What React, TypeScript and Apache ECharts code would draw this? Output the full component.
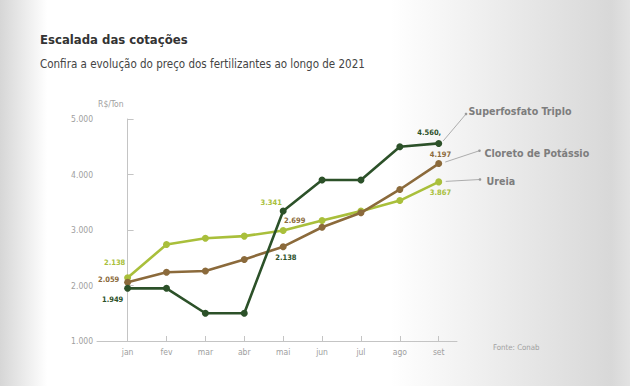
import React, { useEffect, useRef } from "react";
import * as echarts from "echarts";

const months = ["jan", "fev", "mar", "abr", "mai", "jun", "jul", "ago", "set"];
const superfosfato = [1949, 1949, 1500, 1500, 3341, 3900, 3900, 4500, 4560];
const cloreto = [2059, 2240, 2260, 2470, 2699, 3050, 3310, 3730, 4197];
const ureia = [2138, 2740, 2850, 2890, 2990, 3170, 3340, 3530, 3867];
const seriesNames = ["Superfosfato Triplo", "Cloreto de Potássio", "Ureia"];
const yMin = 1000;
const yMax = 5000;
const yStep = 1000;

const DARK = "#2c5129";
const BROWN = "#8b6a3b";
const LIGHT = "#a9bf3b";
const FONT = "'DejaVu Sans Condensed', 'Liberation Sans Narrow', sans-serif";

// value annotations: [series, point index, text, color, offset]
const valueLabels: [number, number, string, string, [number, number]][] = [
  [0, 0, "1.949", DARK, [-15, 11]],
  [1, 0, "2.059", BROWN, [-19, -3]],
  [2, 0, "2.138", LIGHT, [-13, -15]],
  [0, 4, "3.341", LIGHT, [-12, -8.5]],
  [1, 4, "2.699", BROWN, [11.5, -26.7]],
  [2, 4, "2.138", DARK, [2.7, 27]],
  [0, 8, "4.560,", DARK, [-9.5, -11.3]],
  [1, 8, "4.197", BROWN, [1.7, -9]],
  [2, 8, "3.867", LIGHT, [1.7, 11]],
];

const fmt = (v: number) => String(v).replace(/\B(?=(\d{3})+(?!\d))/g, ".");

export default function App() {
  const ref = useRef<HTMLDivElement>(null);
  useEffect(() => {
    const chart = echarts.init(ref.current!, null, { renderer: "svg" });
    const allSeries = [superfosfato, cloreto, ureia];
    const colors = [DARK, BROWN, LIGHT];
    const series = allSeries.map((vals, si) => ({
      type: "line",
      name: seriesNames[si],
      symbol: "circle",
      symbolSize: 7,
      z: 3 - si,
      lineStyle: { color: colors[si], width: 2.6 },
      itemStyle: { color: colors[si] },
      data: vals.map((v, i) => {
        const lab = valueLabels.find((l) => l[0] === si && l[1] === i);
        const item: any = { value: [i, v] };
        if (lab) {
          item.label = {
            show: true,
            position: "inside",
            formatter: lab[2],
            color: lab[3],
            offset: lab[4],
            fontSize: 7.5,
            fontWeight: "bold",
            fontFamily: FONT,
          };
        }
        return item;
      }),
      label: { show: false },
    }));
    const idx = months.map((_, i) => i);
    chart.setOption({
      animation: false,
      backgroundColor: {
        type: "linear",
        x: 0,
        y: 0,
        x2: 1,
        y2: 0,
        colorStops: [
          { offset: 0, color: "#d6d6d6" },
          { offset: 0.075, color: "#ffffff" },
          { offset: 0.62, color: "#ffffff" },
          { offset: 0.97, color: "#d8d8d8" },
          { offset: 1, color: "#e2e2e2" },
        ],
      },
      title: {
        text: "Escalada das cotações",
        subtext: "Confira a evolução do preço dos fertilizantes ao longo de 2021",
        left: 40,
        top: 33,
        padding: 0,
        itemGap: 12,
        textStyle: { fontFamily: FONT, fontSize: 13, fontWeight: "bold", color: "#333" },
        subtextStyle: { fontFamily: FONT, fontSize: 11.5, color: "#444" },
      },
      grid: { left: 97, right: 173, top: 119, bottom: 45, containLabel: false },
      xAxis: {
        type: "value",
        min: -0.787,
        max: 8.47,
        splitLine: { show: false },
        axisLine: { show: true, lineStyle: { color: "#c4c4c4", width: 1 } },
        axisTick: { show: true, inside: true, length: 5, customValues: idx, lineStyle: { color: "#c4c4c4" } },
        axisLabel: {
          customValues: idx,
          formatter: (v: number) => months[Math.round(v)],
          color: "#a0a0a0",
          fontSize: 8.5,
          fontFamily: FONT,
          margin: 6,
        },
      },
      yAxis: {
        type: "value",
        min: yMin,
        max: yMax,
        interval: yStep,
        name: "R$/Ton",
        nameLocation: "end",
        nameGap: 11,
        nameTextStyle: { align: "right", color: "#a0a0a0", fontSize: 8.5, fontFamily: FONT, padding: [0, 4, 0, 0] },
        splitLine: { show: false },
        axisLine: { show: true, lineStyle: { color: "#c4c4c4", width: 1 } },
        axisTick: { show: true, inside: true, length: 6, lineStyle: { color: "#c4c4c4" } },
        axisLabel: { formatter: (v: number) => fmt(v), color: "#a0a0a0", fontSize: 8.5, fontFamily: FONT, margin: 4 },
      },
      series,
    });

    const last = months.length - 1;
    const pts = allSeries.map((vals) => chart.convertToPixel({ gridIndex: 0 }, [last, vals[last]]) as number[]);
    const leaders: { start: [number, number]; end: [number, number]; text: [number, number] }[] = [
      { start: [4.5, -2.5], end: [466, 114], text: [468.5, 111] },
      { start: [6.5, -1.5], end: [479.5, 150.7], text: [484.5, 153] },
      { start: [7, -0.5], end: [480, 179.5], text: [486.5, 181] },
    ];
    const graphic: any[] = [];
    leaders.forEach((l, i) => {
      graphic.push({
        type: "line",
        shape: { x1: pts[i][0] + l.start[0], y1: pts[i][1] + l.start[1], x2: l.end[0], y2: l.end[1] },
        style: { stroke: "#9a9a9a", lineWidth: 0.8 },
      });
      graphic.push({ type: "circle", shape: { cx: l.end[0], cy: l.end[1], r: 1.3 }, style: { fill: "#9a9a9a" } });
      graphic.push({
        type: "text",
        x: l.text[0],
        y: l.text[1],
        style: {
          text: seriesNames[i],
          fill: "#7d7d7d",
          font: `bold 10.6px ${FONT}`,
          verticalAlign: "middle",
        },
      });
    });
    graphic.push({
      type: "text",
      x: 493,
      y: 347.5,
      style: { text: "Fonte: Conab", fill: "#a0a0a0", font: `7.8px ${FONT}`, verticalAlign: "middle" },
    });
    chart.setOption({ graphic });
    return () => chart.dispose();
  }, []);
  return <div ref={ref} style={{ position: "fixed", left: 0, top: 0, width: 630, height: 386 }} />;
}
